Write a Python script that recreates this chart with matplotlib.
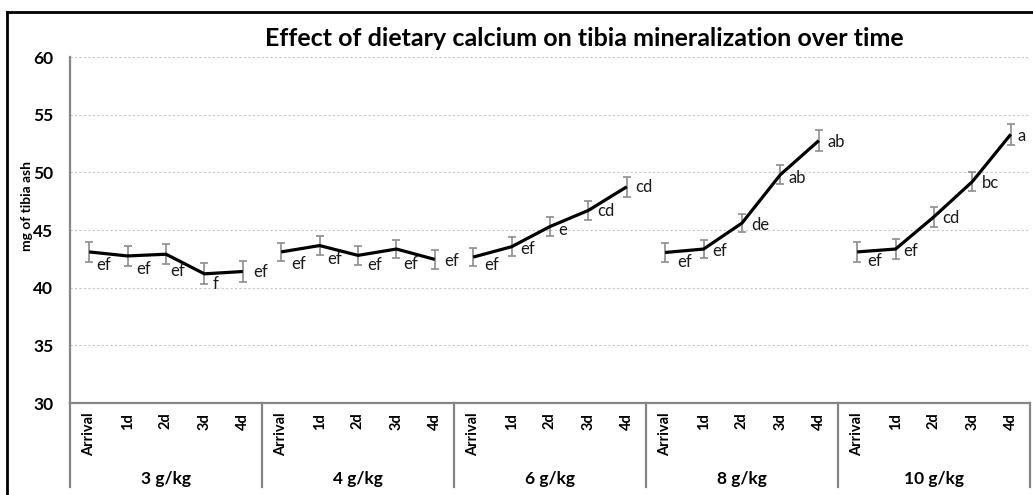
import matplotlib
matplotlib.use("Agg")
import matplotlib.pyplot as plt
import matplotlib.transforms as mtransforms
from matplotlib.lines import Line2D
import numpy as np

plt.rcParams['font.family'] = ['Lato', 'DejaVu Sans']

# Dietary calcium levels and sampling times
groups = ["3 g/kg", "4 g/kg", "6 g/kg", "8 g/kg", "10 g/kg"]
times = ["Arrival", "1d", "2d", "3d", "4d"]

# Mean tibia ash (mg) per calcium level
ash_3 = [43.1, 42.75, 42.9, 41.2, 41.4]
ash_4 = [43.1, 43.65, 42.8, 43.35, 42.45]
ash_6 = [42.65, 43.55, 45.3, 46.7, 48.75]
ash_8 = [43.05, 43.35, 45.6, 49.8, 52.75]
ash_10 = [43.1, 43.35, 46.15, 49.2, 53.3]

# Standard errors
err_3 = [0.85, 0.85, 0.85, 0.9, 0.9]
err_4 = [0.8, 0.8, 0.8, 0.8, 0.8]
err_6 = [0.8, 0.8, 0.8, 0.8, 0.85]
err_8 = [0.85, 0.8, 0.8, 0.85, 0.9]
err_10 = [0.85, 0.85, 0.85, 0.85, 0.9]

# Significance letters
sig_3 = ["ef", "ef", "ef", "f", "ef"]
sig_4 = ["ef", "ef", "ef", "ef", "ef"]
sig_6 = ["ef", "ef", "e", "cd", "cd"]
sig_8 = ["ef", "ef", "de", "ab", "ab"]
sig_10 = ["ef", "ef", "cd", "bc", "a"]

series = [ash_3, ash_4, ash_6, ash_8, ash_10]
errors = [err_3, err_4, err_6, err_8, err_10]
letters = [sig_3, sig_4, sig_6, sig_8, sig_10]

# letter offsets in pixels (dx, dy), dy positive = downward
offsets = [
    [(14, 13), (16, 13), (12, 17), (11, 10), (18, 0)],
    [(17, 12), (15, 13), (17, 10), (14, 15), (17, 2)],
    [(18, 8), (16, 2), (13, 3), (17, 1), (17, 0)],
    [(19, 10), (16, 2), (18, 2), (17, 3), (17, 1)],
    [(17, 9), (15, 2), (17, 1), (18, 1), (11, 2)],
]

W, H = 1033, 495
fig = plt.figure(figsize=(W / 100, H / 100), dpi=100)
ax = fig.add_axes([70 / W, 1 - 403 / H, 960 / W, 346 / H])

spine_col = "#868686"
n = len(times)
for g, (vals, errs, labs, offs) in enumerate(zip(series, errors, letters, offsets)):
    x = np.arange(n) + g * n
    ax.errorbar(x, vals, yerr=errs, fmt="none", ecolor="#8c8c8c",
                elinewidth=1.2, capsize=3, capthick=1.2, zorder=2)
    ax.plot(x, vals, color="black", lw=2.3, zorder=3, solid_capstyle="butt")
    for xi, yi, lab, (dx, dy) in zip(x, vals, labs, offs):
        ax.annotate(lab, (xi, yi), xytext=(dx, -dy), textcoords="offset pixels",
                    ha="center", va="center", fontsize=12, color="#1a1a1a")

ax.set_xlim(-0.5, n * len(groups) - 0.5)
ax.set_ylim(30, 60)
ax.set_yticks(range(30, 61, 5))
ax.grid(axis="y", color="#c8c8c8", linestyle=(0, (2, 2)), linewidth=0.8)
ax.set_axisbelow(True)

ax.set_xticks(range(n * len(groups)))
ax.set_xticklabels(times * len(groups), rotation=90, fontweight="bold",
                   fontsize=10.5, va="top")
ax.tick_params(axis="x", length=0, pad=7)
ax.tick_params(axis="y", length=0, pad=12)
for lab in ax.get_yticklabels():
    lab.set_fontweight("bold")
    lab.set_fontsize(12.5)

for side in ["top", "right"]:
    ax.spines[side].set_visible(False)
for side in ["left", "bottom"]:
    ax.spines[side].set_color(spine_col)
    ax.spines[side].set_linewidth(1.6)

# group separators and group names below the axis
trans = mtransforms.blended_transform_factory(ax.transData, ax.transAxes)
y_low = -(487 - 403) / 346
for b in range(len(groups) + 1):
    xb = b * n - 0.5
    ax.add_line(Line2D([xb, xb], [0, y_low], transform=trans, color=spine_col,
                       lw=1.6, clip_on=False))
for g, name in enumerate(groups):
    ax.text(g * n + (n - 1) / 2, -(479 - 403) / 346, name, transform=trans,
            ha="center", va="center", fontweight="bold", fontsize=12.5)

ax.set_ylabel("")
fig.text(27 / W, 1 - 206 / H, "mg of tibia ash", rotation=90, ha="center",
         va="center", fontweight="bold", fontsize=10)

fig.text(584 / W, 1 - 39 / H,
         "Effect of dietary calcium on tibia mineralization over time",
         ha="center", va="center", fontweight="bold", fontsize=18)

# outer frame
fig.add_artist(Line2D([7 / W, 1], [1 - 12 / H, 1 - 12 / H], color="black",
                      lw=2, transform=fig.transFigure))
fig.add_artist(Line2D([7 / W, 7 / W], [0, 1 - 12 / H], color="black",
                      lw=2, transform=fig.transFigure))

fig.savefig("out.png", dpi=100)
